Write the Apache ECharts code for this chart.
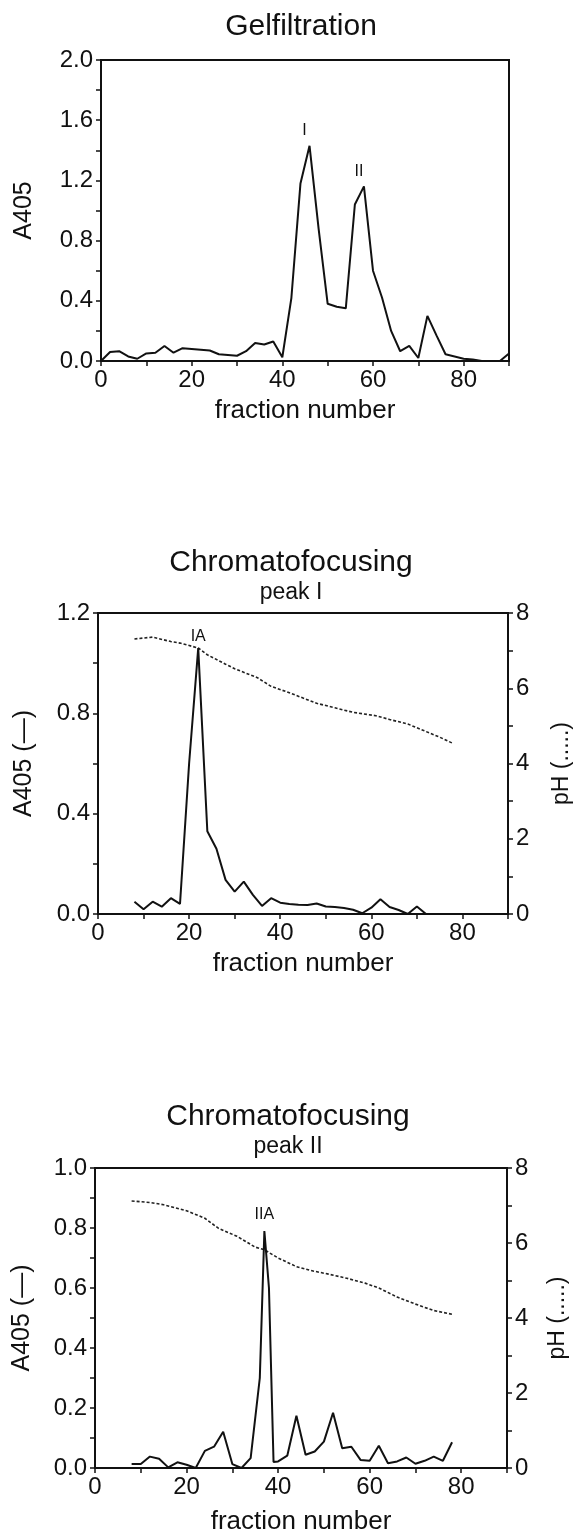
<!DOCTYPE html>
<html><head><meta charset="utf-8">
<script src="https://cdn.jsdelivr.net/npm/echarts@6/dist/echarts.min.js"></script>
<style>html,body{margin:0;padding:0;background:#fff}#c{width:574px;height:1532px}</style>
</head><body><div id="c"></div>
<script>
const FONT = '"Liberation Sans", Arial, Helvetica, sans-serif';

// ---- Panel 1: Gelfiltration ----
const gelFraction = [0,2,4,6,8,10,12,14,16,18,20,22,24,26,28,30,32,34,36,38,40,42,44,46,48,50,52,54,56,58,60,62,64,66,68,70,72,74,76,78,80,82,84,86,88,90];
const gelA405 = [0.00,0.06,0.065,0.03,0.015,0.05,0.055,0.10,0.055,0.085,0.08,0.075,0.07,0.045,0.04,0.035,0.065,0.12,0.11,0.13,0.025,0.42,1.18,1.43,0.88,0.38,0.36,0.35,1.04,1.16,0.60,0.42,0.20,0.065,0.10,0.02,0.30,0.17,0.045,0.03,0.015,0.01,0.0,0.0,0.0,0.05];
const gelPeakNames = ['I','II'];
const gelPeakFractions = [46,58];
const gelPeakValues = [1.43,1.16];

// ---- Panel 2: Chromatofocusing peak I ----
const cf1Fraction = [8,10,12,14,16,18,20,22,24,26,28,30,32,34,36,38,40,42,44,46,48,50,52,54,56,58,60,62,64,66,68,70,72];
const cf1A405 = [0.049,0.019,0.049,0.029,0.063,0.04,0.60,1.06,0.33,0.26,0.136,0.089,0.129,0.076,0.032,0.063,0.045,0.04,0.037,0.036,0.042,0.03,0.028,0.024,0.017,0.003,0.025,0.059,0.028,0.016,0.0,0.03,0.0];
const cf1pHFraction = [8,12,16,18,22,24,28,30,35,38,42,48,52,56,61,64,68,71,75,78];
const cf1pH = [7.31,7.36,7.24,7.20,7.07,6.89,6.64,6.52,6.28,6.05,5.88,5.60,5.48,5.36,5.27,5.17,5.05,4.90,4.70,4.53];
const cf1PeakNames = ['IA'];
const cf1PeakFractions = [22];
const cf1PeakValues = [1.06];

// ---- Panel 3: Chromatofocusing peak II ----
const cf2Fraction = [8,10,12,14,16,18,20,22,24,26,28,30,32,34,36,37,38,39,40,42,44,46,48,50,52,54,56,58,60,62,64,66,68,70,72,74,76,78];
const cf2A405 = [0.013,0.013,0.038,0.031,0.002,0.019,0.011,0.0,0.057,0.071,0.121,0.013,0.0,0.033,0.30,0.79,0.60,0.02,0.022,0.041,0.174,0.044,0.055,0.088,0.184,0.066,0.071,0.027,0.024,0.074,0.016,0.022,0.035,0.014,0.024,0.038,0.024,0.086];
const cf2pHFraction = [8,12,15,20,24,27,31,35,37,40,44,47,51,55,59,62,66,70,74,78];
const cf2pH = [7.12,7.08,7.02,6.86,6.66,6.39,6.18,5.89,5.82,5.60,5.37,5.27,5.17,5.06,4.93,4.80,4.56,4.37,4.20,4.10];
const cf2PeakNames = ['IIA'];
const cf2PeakFractions = [37];
const cf2PeakValues = [0.79];

// ---- tick label texts ----
const xTickLabels = ['0','20','40','60','80'];
const pHTickLabels = ['0','2','4','6','8'];

const pairs = (xs, ys) => xs.map((x, i) => [x, ys[i]]);
const peakData = (names, xs, ys) => names.map((n, i) => ({ name: n, coord: [xs[i], ys[i]] }));

const BLACK = '#111';

function xAxisCfg(gi, gap) {
  return {
    type: 'value', gridIndex: gi, min: 0, max: 90, interval: 10,
    name: 'fraction number', nameLocation: 'middle', nameGap: gap,
    nameTextStyle: { fontSize: 26, color: BLACK, fontFamily: FONT },
    axisLine: { show: true, onZero: false, lineStyle: { color: BLACK, width: 2 } },
    axisTick: { show: true, length: 5, inside: false, lineStyle: { color: BLACK, width: 1.5 } },
    axisLabel: { fontSize: 24, color: BLACK, fontFamily: FONT, margin: 7,
      formatter: v => xTickLabels.includes(String(v)) ? String(v) : '' },
    splitLine: { show: false }
  };
}
function yLeftCfg(gi, max, interval, name, gap) {
  return {
    type: 'value', gridIndex: gi, min: 0, max: max, interval: interval, position: 'left',
    name: name, nameLocation: 'middle', nameGap: gap, nameRotate: 90,
    nameTextStyle: { fontSize: 25, color: BLACK, fontFamily: FONT },
    axisLine: { show: true, onZero: false, lineStyle: { color: BLACK, width: 2 } },
    axisTick: { show: true, length: 5, inside: false, lineStyle: { color: BLACK, width: 1.5 } },
    axisLabel: { fontSize: 24, color: BLACK, fontFamily: FONT, margin: 8,
      formatter: v => (Math.round(v / interval) % 2 === 0) ? v.toFixed(1) : '' },
    splitLine: { show: false }
  };
}
function yRightCfg(gi, gap) {
  return {
    type: 'value', gridIndex: gi, min: 0, max: 8, interval: 1, position: 'right',
    name: 'pH (.....)', nameLocation: 'middle', nameGap: gap, nameRotate: 90,
    nameTextStyle: { fontSize: 23, lineHeight: 20, color: BLACK, fontFamily: FONT },
    axisLine: { show: true, onZero: false, lineStyle: { color: BLACK, width: 2 } },
    axisTick: { show: true, length: 5, inside: false, lineStyle: { color: BLACK, width: 1.5 } },
    axisLabel: { fontSize: 24, color: BLACK, fontFamily: FONT, margin: 8,
      formatter: v => pHTickLabels.includes(String(v)) ? String(v) : '' },
    splitLine: { show: false }
  };
}
function solidSeries(xi, yi, data, peaks, dist, offX) {
  return {
    type: 'line', xAxisIndex: xi, yAxisIndex: yi, data: data, symbol: 'none', smooth: false,
    lineStyle: { color: BLACK, width: 2 }, z: 3,
    markPoint: {
      symbol: 'circle', symbolSize: 0, silent: true, animation: false,
      label: { show: true, position: 'top', distance: dist, offset: [offX, 0], formatter: p => p.name,
        fontSize: 16, color: BLACK, fontFamily: FONT },
      data: peaks
    }
  };
}
function dottedSeries(xi, yi, data) {
  return {
    type: 'line', xAxisIndex: xi, yAxisIndex: yi, data: data, symbol: 'none', smooth: false,
    lineStyle: { color: '#222', width: 1.6, type: [3, 2] }, z: 2
  };
}

const chart = echarts.init(document.getElementById('c'), null, { renderer: 'canvas' });
const gridBase = { show: true, borderColor: BLACK, borderWidth: 2, backgroundColor: 'transparent', outerBoundsMode: 'none', containLabel: false };
chart.setOption({
  animation: false,
  backgroundColor: '#fff',
  grid: [
    Object.assign({ left: 101, top: 60, width: 408, height: 301 }, gridBase),
    Object.assign({ left: 98, top: 613, width: 410, height: 301 }, gridBase),
    Object.assign({ left: 95, top: 1168, width: 412, height: 300 }, gridBase)
  ],
  xAxis: [xAxisCfg(0, 37), xAxisCfg(1, 37), xAxisCfg(2, 41)],
  yAxis: [
    yLeftCfg(0, 2.0, 0.2, 'A405', 64),
    yLeftCfg(1, 1.2, 0.2, 'A405 (—)', 61),
    yRightCfg(1, 44),
    yLeftCfg(2, 1.0, 0.1, 'A405 (—)', 60),
    yRightCfg(2, 41)
  ],
  series: [
    solidSeries(0, 0, pairs(gelFraction, gelA405), peakData(gelPeakNames, gelPeakFractions, gelPeakValues), 7, -5),
    solidSeries(1, 1, pairs(cf1Fraction, cf1A405), peakData(cf1PeakNames, cf1PeakFractions, cf1PeakValues), 4, 0),
    dottedSeries(1, 2, pairs(cf1pHFraction, cf1pH)),
    solidSeries(2, 3, pairs(cf2Fraction, cf2A405), peakData(cf2PeakNames, cf2PeakFractions, cf2PeakValues), 8, 0),
    dottedSeries(2, 4, pairs(cf2pHFraction, cf2pH))
  ],
  graphic: [
    { type: 'text', x: 301, y: 27, style: { text: 'Gelfiltration', fontSize: 30, fontFamily: FONT, fill: BLACK, textAlign: 'center', textVerticalAlign: 'middle', align: 'center', verticalAlign: 'middle' } },
    { type: 'text', x: 291, y: 563, style: { text: 'Chromatofocusing', fontSize: 30, fontFamily: FONT, fill: BLACK, textAlign: 'center', textVerticalAlign: 'middle', align: 'center', verticalAlign: 'middle' } },
    { type: 'text', x: 291, y: 593, style: { text: 'peak I', fontSize: 23, fontFamily: FONT, fill: BLACK, textAlign: 'center', textVerticalAlign: 'middle', align: 'center', verticalAlign: 'middle' } },
    { type: 'text', x: 288, y: 1117, style: { text: 'Chromatofocusing', fontSize: 30, fontFamily: FONT, fill: BLACK, textAlign: 'center', textVerticalAlign: 'middle', align: 'center', verticalAlign: 'middle' } },
    { type: 'text', x: 288, y: 1147, style: { text: 'peak II', fontSize: 23, fontFamily: FONT, fill: BLACK, textAlign: 'center', textVerticalAlign: 'middle', align: 'center', verticalAlign: 'middle' } }
  ]
});
</script>
</body></html>
